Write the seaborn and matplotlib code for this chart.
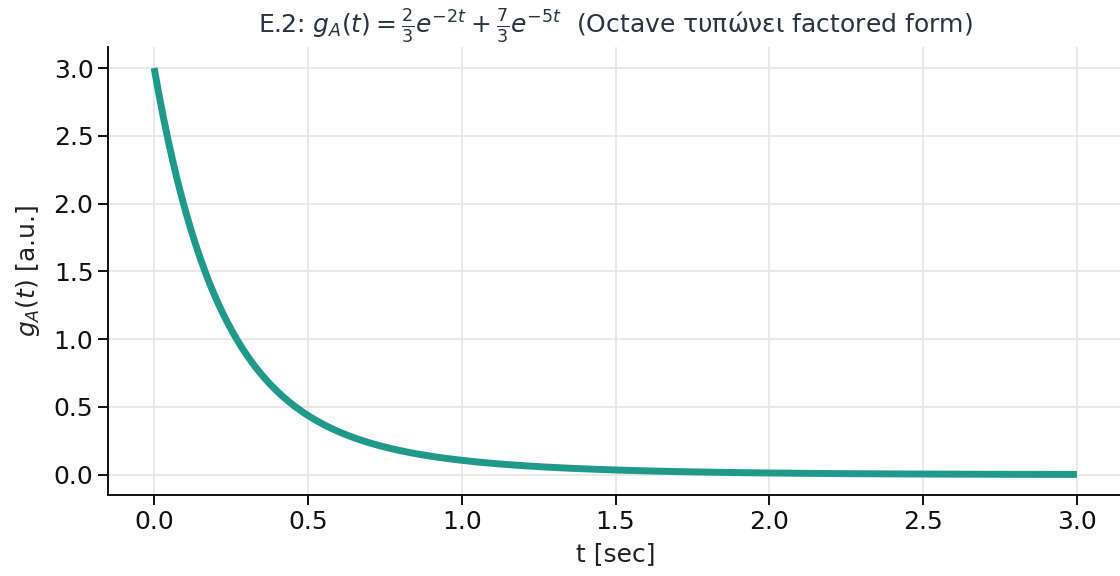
import numpy as np
import pandas as pd
import matplotlib
matplotlib.use("Agg")
import matplotlib.pyplot as plt
import seaborn as sns

# g_A(t) = sum_k amp_k * exp(-rate_k * t)
amplitudes = [2 / 3, 7 / 3]
rates = [2.0, 5.0]
t_start, t_end = 0.0, 3.0

t = np.linspace(t_start, t_end, 600)
g = sum(a * np.exp(-r * t) for a, r in zip(amplitudes, rates))
df = pd.DataFrame({"t": t, "g": g})

sns.set_theme(style="ticks")
plt.rcParams["font.family"] = ["DejaVu Sans"]

fig = plt.figure(figsize=(11.2, 5.76), dpi=100)
ax = fig.add_axes([108 / 1120, 81 / 576, 1015 / 1120, 448 / 576])

sns.lineplot(data=df, x="t", y="g", ax=ax, color="#1f9a8a", linewidth=5,
             solid_capstyle="butt")

ax.set_xlim(-0.15, 3.15)
ax.set_ylim(-0.15, 3.155)
ax.set_xticks(np.arange(0, 3.01, 0.5))
ax.set_yticks(np.arange(0, 3.01, 0.5))
ax.grid(True, color="#e6e6e6", linewidth=1.3)
ax.set_axisbelow(True)
sns.despine(ax=ax)
for s in ("left", "bottom"):
    ax.spines[s].set_color("#111111")
    ax.spines[s].set_linewidth(1.4)
ax.tick_params(axis="both", labelsize=18, colors="#111111", length=7, width=1.4)

ax.set_xlabel("t [sec]", fontsize=18, color="#222222", labelpad=6)
ax.set_ylabel(r"$g_A(t)$ [a.u.]", fontsize=18, color="#222222", labelpad=8)
ax.set_title(r"E.2: $g_A(t) = \frac{2}{3}e^{-2t} + \frac{7}{3}e^{-5t}$  (Octave τυπώνει factored form)",
             fontsize=18, color="#2b3240", pad=10)

fig.savefig("out.png", dpi=100)
